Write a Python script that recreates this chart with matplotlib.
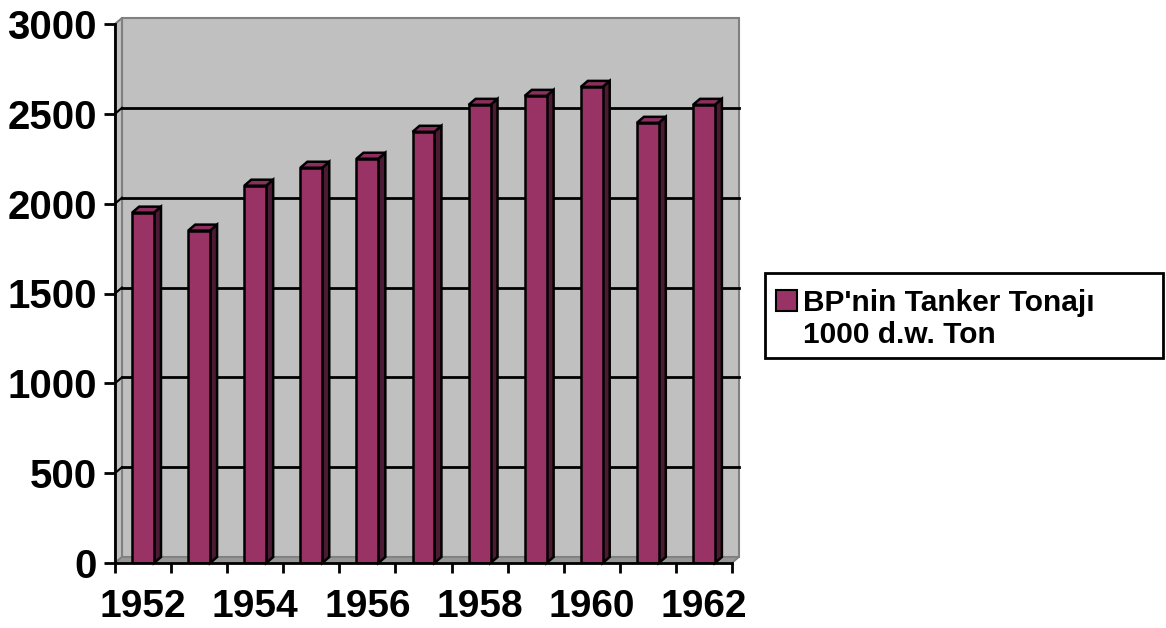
import matplotlib
matplotlib.use("Agg")
import matplotlib.pyplot as plt
from matplotlib.patches import Polygon, Rectangle

plt.rcParams['font.family'] = ['Liberation Sans', 'DejaVu Sans']
plt.rcParams['font.weight'] = 'bold'

# data
years = [1952, 1953, 1954, 1955, 1956, 1957, 1958, 1959, 1960, 1961, 1962]
tonnage = [1950, 1850, 2100, 2200, 2250, 2400, 2550, 2600, 2650, 2450, 2550]
yticks = [0, 500, 1000, 1500, 2000, 2500, 3000]
xlabel_years = [1952, 1954, 1956, 1958, 1960, 1962]
legend_lines = ["BP'nin Tanker Tonajı", "1000 d.w. Ton"]

W, H = 1166, 628
fig = plt.figure(figsize=(W / 100, H / 100), dpi=100)
fig.patch.set_facecolor('white')

# front axis box in pixels: x 115..732, y 563 (0) .. 24 (3000)
ax = fig.add_axes([115 / W, 1 - 563 / H, 617 / W, 539 / H])
n = len(years)
ax.set_xlim(-0.5, n - 0.5)
ax.set_ylim(0, 3000)
ax.patch.set_visible(False)

# depth offset of the 3d look, converted from pixels to data units
ppx = 617 / n
ppy = 539 / 3000
DX, DY = 7 / ppx, 6 / ppy

wall = '#C0C0C0'
edge = '#808080'
x0, x1 = -0.5, n - 0.5

# back wall, left wall, floor
ax.add_patch(Polygon([(x0 + DX, DY), (x1 + DX, DY), (x1 + DX, 3000 + DY), (x0 + DX, 3000 + DY)],
                     closed=True, fc=wall, ec=edge, lw=1.5, zorder=0, clip_on=False))
ax.add_patch(Polygon([(x0, 0), (x0 + DX, DY), (x0 + DX, 3000 + DY), (x0, 3000)],
                     closed=True, fc=wall, ec=edge, lw=1.5, zorder=0, clip_on=False))
ax.add_patch(Polygon([(x0, 0), (x1, 0), (x1 + DX, DY), (x0 + DX, DY)],
                     closed=True, fc='#969696', ec=edge, lw=1.2, zorder=0.5, clip_on=False))

# gridlines on the back wall (and the short bit on the side wall)
for v in yticks[1:-1]:
    ax.plot([x0 + DX, x1 + DX], [v + DY, v + DY], color='black', lw=2, zorder=1, clip_on=False)
    ax.plot([x0, x0 + DX], [v, v + DY], color='black', lw=1.5, zorder=1, clip_on=False)

# columns: front faces through ax.bar, side and top faces as polygons
bw = 0.39
xs = list(range(n))
ax.bar(xs, tonnage, width=bw, color='#993366', edgecolor='black', lw=1.8, zorder=4)
for x, v in zip(xs, tonnage):
    r, l = x + bw / 2, x - bw / 2
    ax.add_patch(Polygon([(r, 0), (r + DX, DY), (r + DX, v + DY), (r, v)],
                         closed=True, fc='#4D1A33', ec='black', lw=1.8, zorder=3, clip_on=False))
    ax.add_patch(Polygon([(l, v), (l + DX, v + DY), (r + DX, v + DY), (r, v)],
                         closed=True, fc='#8C2E5E', ec='black', lw=1.8, zorder=3, clip_on=False))

# axes lines and ticks
for s in ['top', 'right']:
    ax.spines[s].set_visible(False)
for s in ['left', 'bottom']:
    ax.spines[s].set_linewidth(2)
    ax.spines[s].set_zorder(5)

ax.set_yticks(yticks)
ax.set_yticklabels([str(v) for v in yticks])
ax.tick_params(axis='y', direction='out', length=8, width=2, pad=5, labelsize=29)

ax.set_xticks([i - 0.5 for i in range(n + 1)])
ax.set_xticklabels([])
ax.tick_params(axis='x', which='major', direction='out', length=7.5, width=2)
ax.set_xticks([years.index(y) for y in xlabel_years], minor=True)
ax.set_xticklabels([str(y) for y in xlabel_years], minor=True)
ax.tick_params(axis='x', which='minor', length=0, pad=19, labelsize=28)

# legend box drawn by hand (Excel style, wrapped label)
fig.add_artist(Rectangle((765 / W, 1 - 358 / H), 398 / W, 85 / H, transform=fig.transFigure,
                         fc='white', ec='black', lw=2))
fig.add_artist(Rectangle((776 / W, 1 - 311 / H), 21 / W, 21 / H, transform=fig.transFigure,
                         fc='#993366', ec='black', lw=1.5))
fig.text(803 / W, 1 - 311 / H, legend_lines[0], fontsize=21.5, fontweight='bold', va='baseline', ha='left')
fig.text(803 / W, 1 - 343 / H, legend_lines[1], fontsize=21.5, fontweight='bold', va='baseline', ha='left')

fig.savefig('out.png', dpi=100)
